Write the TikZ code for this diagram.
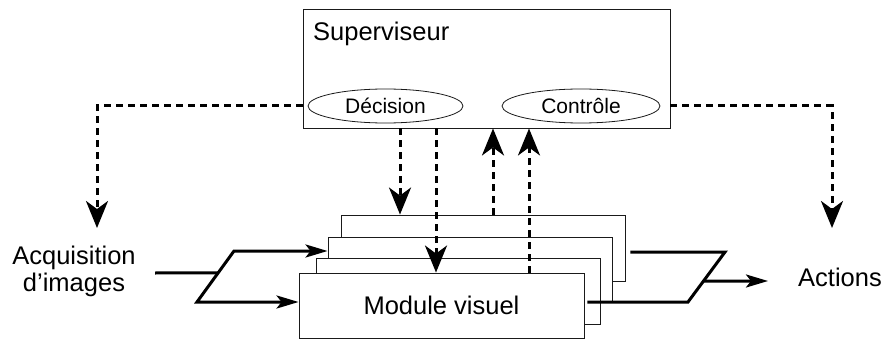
\documentclass[tikz,border=0pt]{standalone}
\usepackage{fontspec}
\setmainfont{Liberation Sans}
\usepackage{xcolor}
\usepackage{tikz}
\usetikzlibrary{calc,arrows.meta,shapes.geometric}
\definecolor{ink}{HTML}{000000}
\definecolor{edge}{HTML}{1A1A1A}
\tikzset{
  box/.style={draw=edge, fill=white, line width=0.9pt, inner sep=0pt},
  oval/.style={draw=edge, ellipse, line width=0.8pt, inner sep=0pt, font=\fontsize{21}{24}\selectfont},
  lab/.style={text=ink, inner sep=0pt, font=\fontsize{25.5}{27}\selectfont},
  ctrl/.style={draw=ink, line width=3pt, dash pattern=on 7pt off 5pt,
    -{Stealth[length=27pt,width=22pt,inset=8pt]}},
  flow/.style={draw=ink, line width=3pt},
  flowtip/.tip={Stealth[length=22pt,width=13pt,inset=5pt]}
}
\begin{document}
\begin{tikzpicture}[x=1pt,y=-1pt]
  \useasboundingbox (0,0) rectangle (883,339);

  % supervisor and its two parts
  \node[box, minimum width=367pt, minimum height=119pt] (sup) at (486.5,68.5) {};
  \node[lab, anchor=base west] (suplab) at (313,41) {Superviseur};
  \node[oval, minimum width=155pt, minimum height=34pt] (dec) at (385.5,106) {Décision};
  \node[oval, minimum width=158pt, minimum height=34pt] (ctl) at (581,106) {Contrôle};

  % stacked visual modules, back to front
  \node[box, minimum width=284pt, minimum height=66pt] (m4) at (483,248) {};
  \node[box, minimum width=284pt, minimum height=64pt] (m3) at (470,269) {};
  \node[box, minimum width=284pt, minimum height=66pt] (m2) at (458,291) {};
  \node[box, minimum width=285pt, minimum height=65pt, lab] (m1) at (441.5,305.5) {Module visuel};

  % side labels
  \node[lab, align=center] (acq) at (74,271) {Acquisition\\d’images};
  \node[lab, anchor=base west] (act) at (798,286) {Actions};

  \coordinate (acqtip) at (97,228);
  \coordinate (acttip) at (832,228);
  \coordinate (d1) at (400,0);
  \coordinate (d2) at (436,0);
  \coordinate (u1) at (493,0);
  \coordinate (u2) at (529,0);

  % control links
  \draw[ctrl] (sup.west |- dec) -| (acqtip);
  \draw[ctrl] (sup.east |- ctl) -| (acttip);
  \draw[ctrl] (sup.south -| d1) -- (m4.north -| d1);
  \draw[ctrl] (sup.south -| d2) -- (m1.north -| d2);
  \draw[ctrl] (m4.north -| u1) -- (sup.south -| u1);
  \draw[ctrl] (m1.north -| u2) -- (sup.south -| u2);

  % image input
  \coordinate (inA) at (234,251);
  \coordinate (inB) at (197,302);
  \coordinate (inJ) at ($(inA)!0.43!(inB)$);
  \coordinate (inS) at (155,273);
  \draw[flow] (inS) -- (inJ);
  \draw[flow, flowtip-flowtip] (m1.west |- inB) -- (inB) -- (inA) -- (m3.west |- inA);

  % action output
  \coordinate (outA) at (725,252);
  \coordinate (outB) at (688,302);
  \coordinate (outJ) at ($(outA)!0.58!(outB)$);
  \coordinate (outT) at (768,281);
  \draw[flow] ([xshift=5pt]m4.east |- outA) -- (outA) -- (outB) -- ([xshift=3pt]m1.east |- outB);
  \draw[flow, -flowtip] (outJ) -- (outT);
\end{tikzpicture}
\end{document}
